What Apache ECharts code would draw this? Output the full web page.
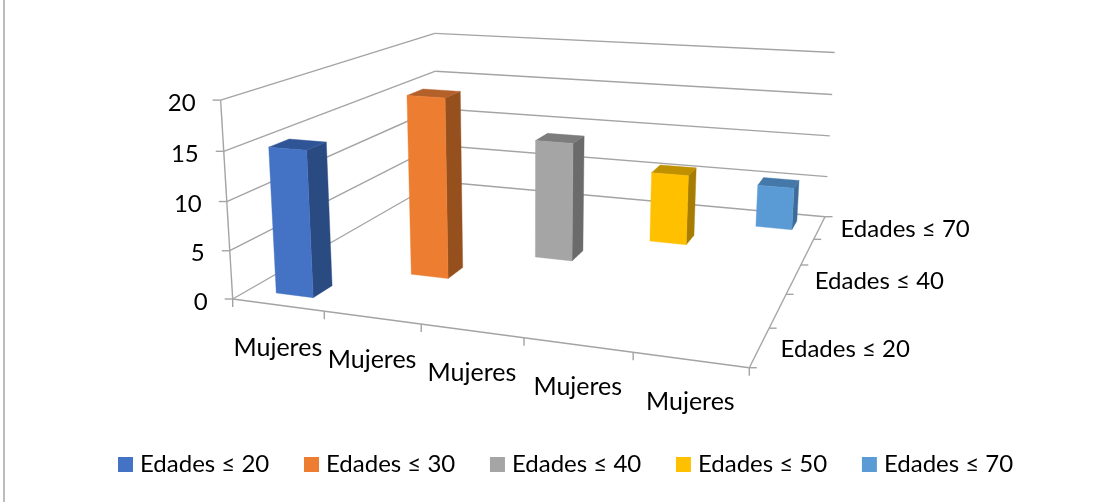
<!DOCTYPE html>
<html><head><meta charset="utf-8">
<style>html,body{margin:0;padding:0;background:#fff}#c{width:1103px;height:502px}</style>
<script src="https://cdn.jsdelivr.net/npm/echarts@6/dist/echarts.min.js"></script>
</head><body><div id="c"></div>
<script>
const categories = ['Mujeres','Mujeres','Mujeres','Mujeres','Mujeres'];
const seriesNames = ['Edades ≤ 20','Edades ≤ 30','Edades ≤ 40','Edades ≤ 50','Edades ≤ 70'];
const values = [15, 19, 13, 8, 5];
const yTicks = [0, 5, 10, 15, 20];
const depthLabels = ['Edades ≤ 20','','Edades ≤ 40','','Edades ≤ 70'];
const frontColors = ['#4472C4','#ED7D31','#A5A5A5','#FFC000','#5B9BD5'];
const sideColors = ['#2A4A82','#95501E','#6B6B6B','#A67D00','#3D6C9A'];
const topColors = ['#2F5597','#B3602A','#7C7C7C','#BF9000','#4478A8'];

const FONT = 'Lato';
const FS = 24;
const FS_CAT = 25;
const GRID = {left: 233, top: 100, width: 516, height: 199};
const LINE = '#A4A4A4';

// perspective camera: floor corners + vanishing point of the verticals
const P00=[232.7,299], P10=[749.3,367.7], P11=[825,216.7], P01=[437.5,181.5];
const V=[530,5200], S=-0.039;
const den=(P10[0]-P11[0])*(P01[1]-P11[1])-(P10[1]-P11[1])*(P01[0]-P11[0]);
const sx=P00[0]-P10[0]+P11[0]-P01[0], sy=P00[1]-P10[1]+P11[1]-P01[1];
const G=(sx*(P01[1]-P11[1])-sy*(P01[0]-P11[0]))/den;
const H=((P10[0]-P11[0])*sy-(P10[1]-P11[1])*sx)/den;
function project(u,v,z){
  const w=1+G*u+H*v+S*z;
  const hx=P00[0]+u*((1+G)*P10[0]-P00[0])+v*((1+H)*P01[0]-P00[0])+S*z*V[0];
  const hy=P00[1]+u*((1+G)*P10[1]-P00[1])+v*((1+H)*P01[1]-P00[1])+S*z*V[1];
  return [hx/w,hy/w];
}
const n = categories.length;
const BAR_W=0.41, BAR_D=0.39;
const toU = px => (px-GRID.left)/GRID.width;
const toZ = py => (GRID.top+GRID.height-py)/GRID.height;

const lineEl=(a,b,w)=>({type:'line',shape:{x1:a[0],y1:a[1],x2:b[0],y2:b[1]},style:{stroke:LINE,lineWidth:w||1.4,fill:null},silent:true});
const textEl=(t,p,align,fs)=>({type:'text',style:{text:t,x:p[0],y:p[1],align:align,verticalAlign:'middle',font:(fs||FS)+'px '+FONT,fill:'#000'},silent:true});
const add=(p,dx,dy)=>[p[0]+dx,p[1]+dy];

function renderFrame(params,api){
  const els=[];
  yTicks.forEach(t=>{
    const py=api.coord([0,t])[1], z=toZ(py);
    const a=project(0,0,z), b=project(0,1,z), c=project(1,1,z);
    els.push(lineEl(a,b),lineEl(b,c),lineEl(add(a,-8,0),a));
    els.push(textEl(String(t),add(a,-25,3),'right'));
  });
  els.push(lineEl(project(0,0,0),project(0,0,toZ(api.coord([0,yTicks[yTicks.length-1]])[1]))));
  // front axis and depth axis on the floor
  els.push(lineEl(project(0,0,0),project(1,0,0)),lineEl(project(1,0,0),project(1,1,0)));
  for(let i=0;i<=n;i++){
    const f=project(i/n,0,0); els.push(lineEl(f,add(f,0,8)));
    const d=project(1,i/n,0); els.push(lineEl(d,add(d,7.5,0)));
  }
  categories.forEach((c,i)=>{
    const x=api.coord([i,0])[0];
    els.push(textEl(c,add(project(toU(x),0,0),0,42.5),'center',FS_CAT));
  });
  depthLabels.forEach((t,i)=>{
    if(t) els.push(textEl(t,add(project(1,(i+0.5)/n,0),21,2),'left'));
  });
  return {type:'group',children:els};
}
function makeBar(k){
  return function(params,api){
    const c=api.coord([api.value(0),api.value(1)]);
    const band=api.size([1,0])[0]/GRID.width;
    const uc=toU(c[0])+0.002, z=toZ(c[1]), vc=(k+0.5)/n;
    const u0=uc-band*BAR_W/2,u1=uc+band*BAR_W/2,v0=vc-BAR_D/n/2,v1=vc+BAR_D/n/2;
    const poly=(pts,color)=>({type:'polygon',shape:{points:pts},style:{fill:color,stroke:color,lineWidth:0.4}});
    return {type:'group',children:[
      poly([project(u1,v0,0),project(u1,v1,0),project(u1,v1,z),project(u1,v0,z)],sideColors[k]),
      poly([project(u0,v0,z),project(u1,v0,z),project(u1,v1,z),project(u0,v1,z)],topColors[k]),
      poly([project(u0,v0,0),project(u1,v0,0),project(u1,v0,z),project(u0,v0,z)],frontColors[k])
    ]};
  };
}
const series=[{type:'custom',name:'frame',silent:true,clip:false,z:1,coordinateSystem:'cartesian2d',renderItem:renderFrame,data:[[0,0]],encode:{x:0,y:1}}];
seriesNames.forEach((name,k)=>{
  series.push({type:'custom',name:name,silent:true,clip:false,z:2,coordinateSystem:'cartesian2d',
    itemStyle:{color:frontColors[k]},renderItem:makeBar(k),data:[[k,values[k]]],encode:{x:0,y:1}});
});
const chart=echarts.init(document.getElementById('c'),null,{renderer:'canvas'});
chart.setOption({
  animation:false,backgroundColor:'#fff',
  grid:{left:GRID.left,top:GRID.top,width:GRID.width,height:GRID.height},
  xAxis:{type:'category',data:categories,show:false},
  yAxis:{type:'value',min:0,max:20,interval:5,show:false},
  tooltip:{show:false},
  legend:{data:seriesNames,left:113,top:447.5,itemWidth:15,itemHeight:15,itemGap:34.7,icon:'rect',selectedMode:false,
    textStyle:{fontFamily:FONT,fontSize:FS,color:'#000',padding:[0,0,0,2]}},
  graphic:[{type:'line',shape:{x1:4,y1:0,x2:4,y2:502},style:{stroke:'#A6A6A6',lineWidth:1.5},silent:true}],
  series:series
});
</script></body></html>
